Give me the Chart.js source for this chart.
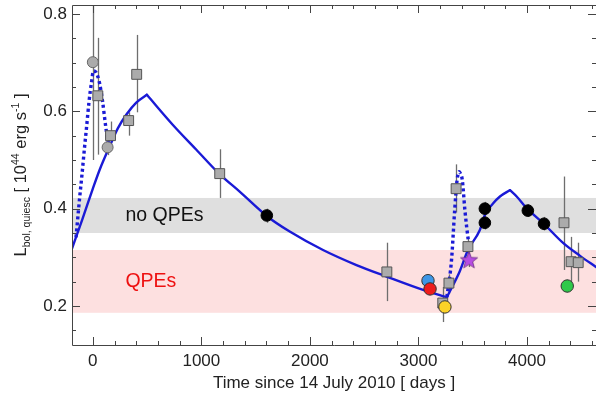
<!DOCTYPE html>
<html lang="en">
<head>
<meta charset="UTF-8">
<title>Quiescent luminosity</title>
<script src="https://cdn.jsdelivr.net/npm/chart.js"></script>
<style>
  body { margin: 0; background: #fff; }
  #box { width: 596px; height: 399px; }
</style>
</head>
<body>
<div id="box"><canvas id="myChart" width="596" height="399"></canvas></div>

<script>
// time in days since 14 July 2010, luminosity in 1e44 erg/s
const xMin = -192, xMax = 4636;
const yMin = 0.1198, yMax = 0.8185;
const xTickLabels = [0, 1000, 2000, 3000, 4000];
const yTickLabels = [0.2, 0.4, 0.6, 0.8];

// shaded regions
const noQpeBand = [0.350, 0.422];
const qpeBand = [0.186, 0.315];

// model curve, solid parts
const riseX = [-192, -100, 0, 63, 155, 230, 311, 400, 498];
const riseY = [0.318, 0.376, 0.441, 0.480, 0.528, 0.565, 0.594, 0.618, 0.634];
const decayX = [498, 738, 954, 1168, 1353, 1608, 1814, 2121, 2429, 2711, 3043, 3262];
const decayY = [0.634, 0.572, 0.521, 0.471, 0.435, 0.384, 0.353, 0.315, 0.284, 0.260, 0.233, 0.218];
const rise2X = [3262, 3382, 3456, 3566, 3612, 3689, 3751, 3843];
const rise2Y = [0.218, 0.272, 0.315, 0.356, 0.387, 0.411, 0.425, 0.438];
const decay2X = [3843, 3905, 3997, 4150, 4335, 4489, 4636];
const decay2Y = [0.438, 0.425, 0.401, 0.370, 0.329, 0.303, 0.280];

// model curve, dotted flares
const flare1X = [-155, -123, -100, -76, -58, -35, -12, 6, 30, 62, 90, 115, 137, 155];
const flare1Y = [0.341, 0.419, 0.470, 0.527, 0.567, 0.620, 0.660, 0.683, 0.680, 0.658, 0.620, 0.575, 0.542, 0.528];
const flare2X = [3262, 3305, 3334, 3356, 3366, 3375, 3388, 3404, 3428, 3459, 3475];
const flare2Y = [0.218, 0.295, 0.397, 0.459, 0.471, 0.476, 0.472, 0.459, 0.397, 0.336, 0.315];

// grey squares
const squareX = [46, 163, 330, 404, 1169, 2709, 3224, 3281, 3347, 3456, 4341, 4407, 4472];
const squareY = [0.632, 0.550, 0.581, 0.676, 0.472, 0.270, 0.206, 0.247, 0.441, 0.322, 0.371, 0.291, 0.289];
const squareLo = [0.511, 0.522, 0.550, 0.598, 0.422, 0.210, 0.167, 0.225, 0.392, 0.300, 0.274, 0.247, 0.250];
const squareHi = [0.751, 0.579, 0.598, 0.757, 0.522, 0.330, 0.239, 0.265, 0.491, 0.342, 0.466, 0.342, 0.330];

// grey circles
const greyX = [0, 136];
const greyY = [0.701, 0.526];
const greyLo = [0.500, 0.510];
const greyHi = [0.900, 0.545];

// black circles
const blackX = [1603, 3612, 3612, 4008, 4157];
const blackY = [0.386, 0.400, 0.371, 0.396, 0.369];
const blackLo = [0.371, 0.386, 0.357, 0.383, 0.355];
const blackHi = [0.400, 0.414, 0.385, 0.409, 0.383];

// coloured circles
const colourX = [3088, 3107, 3244, 4371];
const colourY = [0.252, 0.235, 0.198, 0.241];
const colourLo = [0.252, 0.235, 0.198, 0.228];
const colourHi = [0.252, 0.235, 0.198, 0.254];
const colourFill = ['#3d96e6', '#ee1c1c', '#fcd227', '#2fc94a'];

// star
const starX = [3466];
const starY = [0.295];
const starLo = [0.280];
const starHi = [0.310];

const fam = '"Liberation Sans", Arial, Helvetica, sans-serif';
const ink = '#222';
const lineBlue = '#1a1ad6';

function pts(xs, ys) {
    return xs.map(function (x, i) { return { x: x, y: ys[i] }; });
}

// filled five point star used as point image
const starImg = document.createElement('canvas');
starImg.width = 20;
starImg.height = 20;
(function () {
    const c = starImg.getContext('2d');
    c.beginPath();
    for (let i = 0; i < 10; i++) {
        const r = i % 2 === 0 ? 9 : 3.8;
        const a = -Math.PI / 2 + i * Math.PI / 5;
        const px = 10 + r * Math.cos(a), py = 10.8 + r * Math.sin(a);
        if (i === 0) c.moveTo(px, py); else c.lineTo(px, py);
    }
    c.closePath();
    c.fillStyle = '#b84ce3';
    c.fill();
    c.strokeStyle = '#6a2c80';
    c.lineWidth = 0.8;
    c.stroke();
})();

const errorSets = [
    { x: squareX, lo: squareLo, hi: squareHi },
    { x: greyX, lo: greyLo, hi: greyHi },
    { x: blackX, lo: blackLo, hi: blackHi },
    { x: colourX, lo: colourLo, hi: colourHi },
    { x: starX, lo: starLo, hi: starHi }
];

// bands, band labels and error bars under the data
const backdrop = {
    id: 'backdrop',
    beforeDatasetsDraw(chart) {
        const { ctx, chartArea: a, scales: { x, y } } = chart;
        ctx.save();
        ctx.beginPath();
        ctx.rect(a.left, a.top, a.right - a.left, a.bottom - a.top);
        ctx.clip();
        ctx.fillStyle = '#dfdfdf';
        ctx.fillRect(a.left, y.getPixelForValue(noQpeBand[1]), a.right - a.left,
            y.getPixelForValue(noQpeBand[0]) - y.getPixelForValue(noQpeBand[1]));
        ctx.fillStyle = '#fde0e0';
        ctx.fillRect(a.left, y.getPixelForValue(qpeBand[1]), a.right - a.left,
            y.getPixelForValue(qpeBand[0]) - y.getPixelForValue(qpeBand[1]));

        ctx.font = '19.5px ' + fam;
        ctx.textBaseline = 'middle';
        ctx.fillStyle = '#111';
        ctx.fillText('no QPEs', x.getPixelForValue(300), y.getPixelForValue((noQpeBand[0] + noQpeBand[1]) / 2));
        ctx.fillStyle = '#ee1111';
        ctx.fillText('QPEs', x.getPixelForValue(300), y.getPixelForValue((qpeBand[0] + qpeBand[1]) / 2));

        ctx.strokeStyle = '#6e6e6e';
        ctx.lineWidth = 1.3;
        errorSets.forEach(function (s) {
            s.x.forEach(function (xv, i) {
                if (s.hi[i] - s.lo[i] <= 0) return;
                const px = Math.round(x.getPixelForValue(xv)) + 0.5;
                ctx.beginPath();
                ctx.moveTo(px, y.getPixelForValue(s.lo[i]));
                ctx.lineTo(px, y.getPixelForValue(s.hi[i]));
                ctx.stroke();
            });
        });
        ctx.restore();
    }
};

// frame (right side runs off the picture) with inward ticks, and the y title
const frame = {
    id: 'frame',
    afterDraw(chart) {
        const { ctx, chartArea: a, scales: { x, y } } = chart;
        ctx.save();
        ctx.strokeStyle = '#444';
        ctx.lineWidth = 1;
        ctx.beginPath();
        ctx.moveTo(a.right, a.top + 0.5);
        ctx.lineTo(a.left + 0.5, a.top + 0.5);
        ctx.lineTo(a.left + 0.5, a.bottom + 0.5);
        ctx.lineTo(a.right, a.bottom + 0.5);
        for (let k = Math.ceil(xMin / 200); k * 200 <= xMax; k++) {
            const px = Math.round(x.getPixelForValue(k * 200)) + 0.5;
            const len = k % 5 === 0 ? 8 : 4;
            ctx.moveTo(px, a.bottom); ctx.lineTo(px, a.bottom - len);
            ctx.moveTo(px, a.top); ctx.lineTo(px, a.top + len);
        }
        for (let k = Math.ceil(yMin / 0.05); k * 0.05 <= yMax; k++) {
            const py = Math.round(y.getPixelForValue(k * 0.05)) + 0.5;
            const len = k % 4 === 0 ? 8 : 4;
            ctx.moveTo(a.left, py); ctx.lineTo(a.left + len, py);
            ctx.moveTo(a.right, py); ctx.lineTo(a.right - len, py);
        }
        ctx.stroke();

        // y title with sub- and superscripts
        const parts = [
            ['L', 16.5, 0], ['bol, quiesc', 10.5, 4], [' [ 10', 16.5, 0], ['44', 10.5, -7],
            [' erg s', 16.5, 0], ['-1', 10.5, -7], [' ]', 16.5, 0]
        ];
        let total = 0;
        parts.forEach(function (p) { ctx.font = p[1] + 'px ' + fam; total += ctx.measureText(p[0]).width; });
        ctx.translate(26, (a.top + a.bottom) / 2);
        ctx.rotate(-Math.PI / 2);
        ctx.fillStyle = ink;
        ctx.textBaseline = 'alphabetic';
        let cx = -total / 2;
        parts.forEach(function (p) {
            ctx.font = p[1] + 'px ' + fam;
            ctx.fillText(p[0], cx, p[2]);
            cx += ctx.measureText(p[0]).width;
        });
        ctx.restore();
    }
};

function solid(xs, ys) {
    return {
        data: pts(xs, ys), showLine: true, pointRadius: 0, borderColor: lineBlue,
        borderWidth: 2.4, borderCapStyle: 'round', cubicInterpolationMode: 'monotone', order: 6
    };
}
function dotted(xs, ys) {
    return {
        data: pts(xs, ys), showLine: true, pointRadius: 0, borderColor: lineBlue,
        borderWidth: 3.4, borderDash: [3, 3], cubicInterpolationMode: 'monotone', order: 7
    };
}

const config = {
    type: 'scatter',
    data: {
        datasets: [
            solid(riseX, riseY),
            solid(decayX, decayY),
            solid(rise2X, rise2Y),
            solid(decay2X, decay2Y),
            dotted(flare1X, flare1Y),
            dotted(flare2X, flare2Y),
            { data: pts(squareX, squareY), pointStyle: 'rect', pointRadius: 7, backgroundColor: '#ababab', borderColor: '#555', borderWidth: 1, order: 4 },
            { data: pts(greyX, greyY), pointRadius: 5.5, backgroundColor: '#ababab', borderColor: '#666', borderWidth: 1, order: 3 },
            { data: pts(blackX, blackY), pointRadius: 5.8, backgroundColor: '#000', borderColor: '#000', borderWidth: 1, order: 2 },
            { data: pts(colourX, colourY), pointRadius: 6.2, backgroundColor: colourFill, borderColor: '#333', borderWidth: 1, order: 1 },
            { data: pts(starX, starY), pointStyle: starImg, order: 0 }
        ]
    },
    options: {
        responsive: false,
        animation: false,
        layout: { autoPadding: false, padding: { top: 5, right: 0, bottom: 0, left: 0 } },
        plugins: { legend: { display: false }, tooltip: { enabled: false } },
        scales: {
            x: {
                type: 'linear', min: xMin, max: xMax,
                grid: { display: false, drawTicks: false }, border: { display: false },
                afterBuildTicks: function (s) { s.ticks = xTickLabels.map(function (v) { return { value: v }; }); },
                afterFit: function (s) { s.height = 54; s.paddingLeft = 0; s.paddingRight = 0; },
                ticks: { font: { family: fam, size: 17 }, color: ink, padding: 6, maxRotation: 0, autoSkip: false,
                         callback: function (v) { return String(v); } },
                title: { display: true, text: 'Time since 14 July 2010 [ days ]', font: { family: fam, size: 17 }, color: ink, padding: { top: 0, bottom: 5 } }
            },
            y: {
                min: yMin, max: yMax,
                grid: { display: false, drawTicks: false }, border: { display: false },
                afterBuildTicks: function (s) { s.ticks = yTickLabels.map(function (v) { return { value: v }; }); },
                afterFit: function (s) { s.width = 72; s.paddingTop = 0; s.paddingBottom = 0; },
                ticks: { font: { family: fam, size: 17 }, color: ink, padding: 5, callback: function (v) { return v.toFixed(1); } }
            }
        }
    },
    plugins: [backdrop, frame]
};

const myChart = new Chart(document.getElementById('myChart'), config);
</script>
</body>
</html>
